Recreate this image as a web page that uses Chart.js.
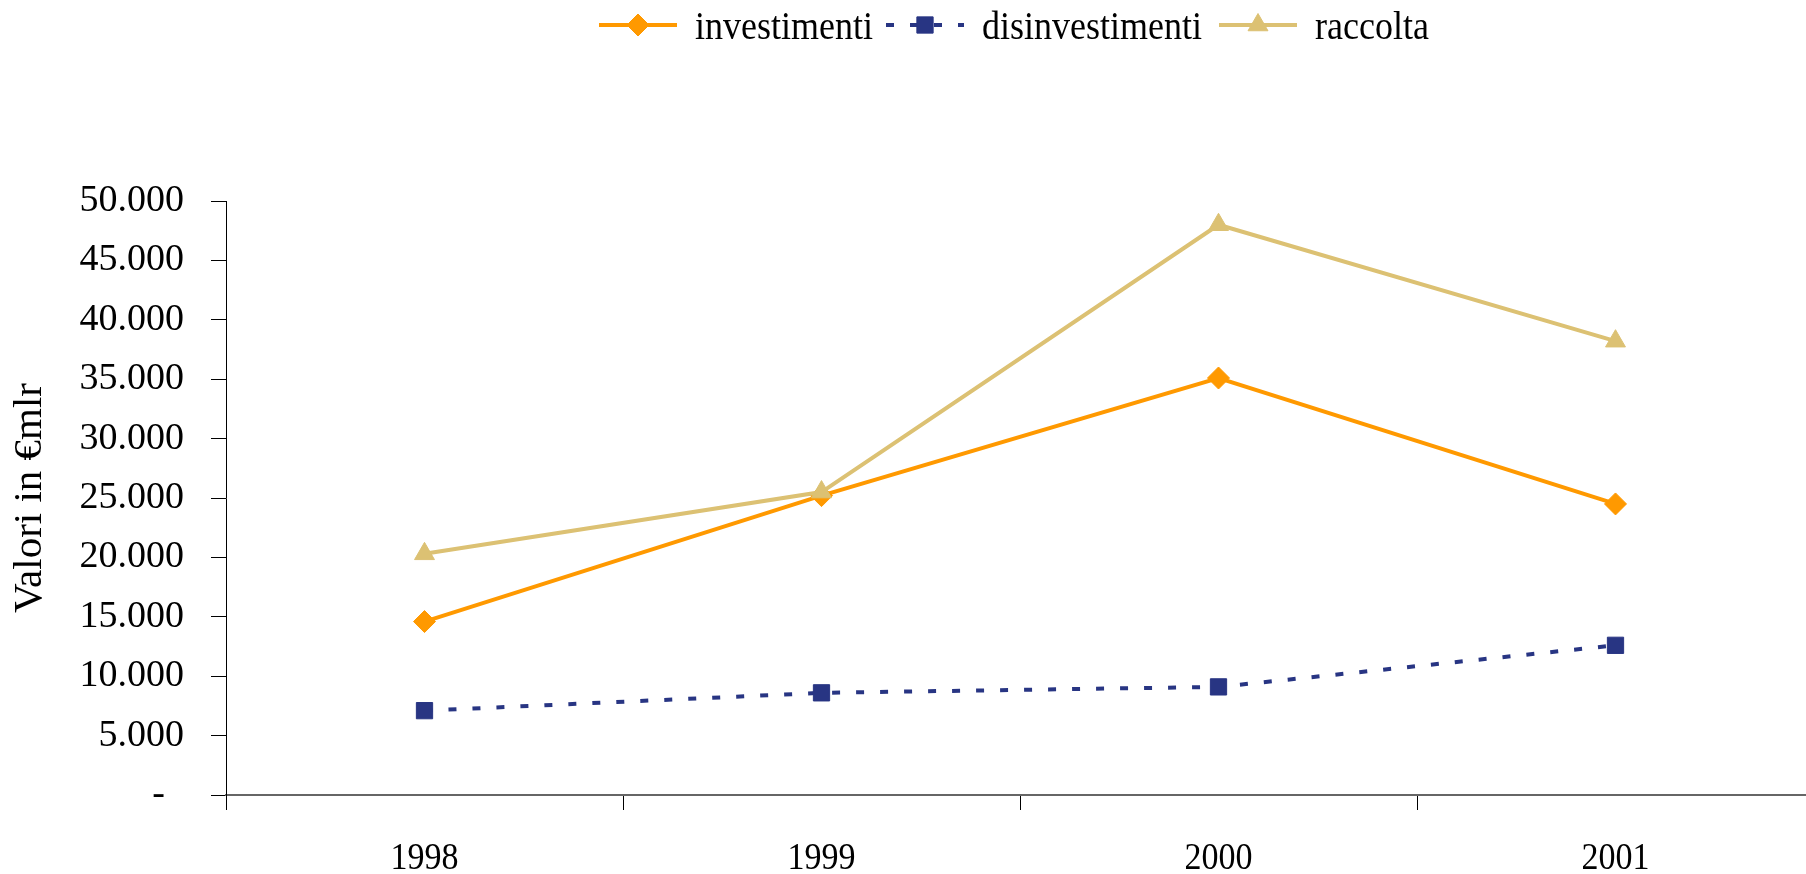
<!DOCTYPE html>
<html>
<head>
<meta charset="utf-8">
<script src="https://cdn.jsdelivr.net/npm/chart.js@4.4.1/dist/chart.umd.min.js"></script>
<style>
  html, body { margin: 0; padding: 0; background: #fff; overflow: hidden; }
  #wrap { width: 1830px; height: 874px; }
</style>
</head>
<body>
<div id="wrap"><canvas id="chart" width="1830" height="874"></canvas></div>
<script>
// Data
const years = ["1998", "1999", "2000", "2001"];
const investimenti = [14600, 25200, 35100, 24500];
const disinvestimenti = [7100, 8600, 9100, 12600];
const raccolta = [20300, 25500, 48000, 38200];
const yTicks = [0, 5000, 10000, 15000, 20000, 25000, 30000, 35000, 40000, 45000, 50000];

const serif = '"Liberation Serif", "Times New Roman", serif';

// 50000 -> "50.000", 0 -> "-" (accounting style, dash sits left of the edge)
function formatTick(v) {
    if (v === 0) return "-  ";
    return String(v).replace(/\B(?=(\d{3})+(?!\d))/g, ".");
}

// Excel style legend: line + marker + text (text is a bit tall in the original)
const legendX = [599, 886, 1219];
const lineLegend = {
    id: "lineLegend",
    afterDraw(chart) {
        const ctx = chart.ctx;
        const y = 25;
        ctx.save();
        ctx.font = "36px " + serif;
        ctx.textBaseline = "alphabetic";
        ctx.textAlign = "left";
        chart.data.datasets.forEach((ds, i) => {
            const x = legendX[i];
            ctx.strokeStyle = ds.borderColor;
            ctx.lineWidth = ds.borderWidth;
            ctx.setLineDash(ds.borderDash || []);
            ctx.beginPath();
            ctx.moveTo(x, y);
            ctx.lineTo(x + 78, y);
            ctx.stroke();
            ctx.setLineDash([]);
            ctx.fillStyle = ds.pointBackgroundColor;
            ctx.strokeStyle = ds.pointBorderColor;
            ctx.lineWidth = 1;
            Chart.helpers.drawPoint(ctx, {
                pointStyle: ds.pointStyle,
                radius: ds.pointRadius,
                borderWidth: 1,
                rotation: 0,
            }, x + 39, y);
            ctx.fillStyle = "#000";
            ctx.save();
            ctx.translate(x + 96, 38.5);
            ctx.scale(1, 1.1);
            ctx.fillText(ds.label, 0, 0);
            ctx.restore();
        });
        ctx.restore();
    },
};

// category labels, slightly tall like the original
const tallXLabels = {
    id: "tallXLabels",
    afterDraw(chart) {
        const scale = chart.scales.x;
        const ctx = chart.ctx;
        ctx.save();
        ctx.font = "34px " + serif;
        ctx.fillStyle = "#000";
        ctx.textAlign = "center";
        ctx.textBaseline = "alphabetic";
        scale.ticks.forEach((t, i) => {
            ctx.save();
            ctx.translate(scale.getPixelForTick(i), 869);
            ctx.scale(1, 1.13);
            ctx.fillText(scale.getLabelForValue(t.value), 0, 0);
            ctx.restore();
        });
        ctx.restore();
    },
};

const ctx = document.getElementById("chart").getContext("2d");
const chart = new Chart(ctx, {
    type: "line",
    data: {
        labels: years,
        datasets: [
            {
                label: "investimenti",
                data: investimenti,
                borderColor: "#FF9900",
                borderWidth: 4,
                pointStyle: "rectRot",
                pointRadius: 11,
                pointBackgroundColor: "#FF9900",
                pointBorderColor: "#FF9900",
                pointBorderWidth: 1,
                order: 2,
            },
            {
                label: "disinvestimenti",
                data: disinvestimenti,
                borderColor: "#283583",
                borderWidth: 4,
                borderDash: [8, 16],
                pointStyle: "rect",
                pointRadius: 11.5,
                pointBackgroundColor: "#283583",
                pointBorderColor: "#283583",
                pointBorderWidth: 1,
                order: 1,
            },
            {
                label: "raccolta",
                data: raccolta,
                borderColor: "#DCC173",
                borderWidth: 4,
                pointStyle: "triangle",
                pointRadius: 11.5,
                pointBackgroundColor: "#DCC173",
                pointBorderColor: "#DCC173",
                pointBorderWidth: 1,
                order: 0,
            },
        ],
    },
    options: {
        responsive: false,
        animation: false,
        devicePixelRatio: 1,
        layout: { padding: { top: 201, right: 16, bottom: 0, left: 0 } },
        plugins: {
            legend: { display: false },
            tooltip: { enabled: false },
        },
        elements: { line: { tension: 0 } },
        scales: {
            x: {
                offset: true,
                grid: {
                    offset: true,
                    drawOnChartArea: false,
                    drawTicks: true,
                    tickLength: 15,
                    color: "#000",
                },
                border: { color: "#666", width: 2 },
                ticks: { display: false },
                afterFit(scale) { scale.height = 79; },
            },
            y: {
                min: 0,
                max: 50000,
                afterBuildTicks(scale) {
                    scale.ticks = yTicks.map((v) => ({ value: v }));
                },
                grid: {
                    drawOnChartArea: false,
                    drawTicks: true,
                    tickLength: 15,
                    color: "#000",
                },
                border: { color: "#000", width: 1 },
                ticks: {
                    color: "#000",
                    font: { family: serif, size: 38 },
                    padding: 27,
                    callback: (v) => formatTick(v),
                },
                title: {
                    display: true,
                    text: "Valori in €mlr",
                    color: "#000",
                    font: { family: serif, size: 41 },
                    padding: { top: 6, bottom: 0 },
                },
                afterFit(scale) { scale.width = 226; },
            },
        },
    },
    plugins: [lineLegend, tallXLabels],
});
</script>
</body>
</html>
